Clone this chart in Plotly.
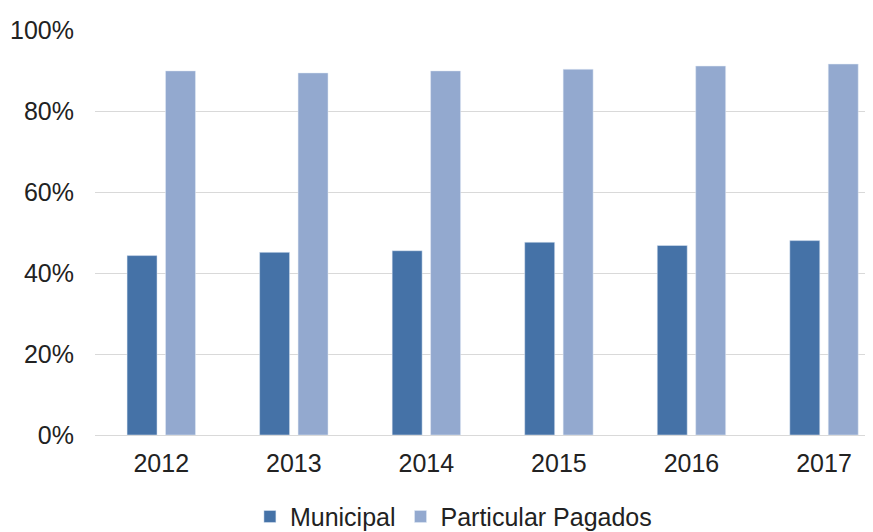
import plotly.graph_objects as go

years = ["2012", "2013", "2014", "2015", "2016", "2017"]
municipal = [0.443, 0.451, 0.455, 0.476, 0.468, 0.480]
particular_pagados = [0.899, 0.894, 0.899, 0.903, 0.911, 0.916]
y_ticks = [0, 0.2, 0.4, 0.6, 0.8, 1.0]
y_tick_labels = ["0%", "20%", "40%", "60%", "80%", "100%"]

fig = go.Figure()

fig.add_trace(go.Bar(
    x=years,
    y=municipal,
    name="Municipal",
    marker=dict(color="#4572A7"),
    hoverinfo="skip"
))

fig.add_trace(go.Bar(
    x=years,
    y=particular_pagados,
    name="Particular Pagados",
    marker=dict(color="#93A9CF"),
    hoverinfo="skip"
))

# page has an 8px body margin, margins below compensate for it
fig.update_layout(
    width=873,
    height=532,
    margin=dict(t=22, b=103, l=87, r=0),
    paper_bgcolor="white",
    plot_bgcolor="white",
    barmode="group",
    bargap=0.42,
    bargroupgap=0.22,
    font=dict(family="Liberation Sans, Arial, sans-serif", size=25, color="#222222"),
    legend=dict(
        orientation="h",
        x=0.456,
        xanchor="center",
        y=-0.145,
        yanchor="top",
        font=dict(size=25),
        itemwidth=30
    )
)

# the plot runs past the right edge of the picture, so the last category is cut a bit
fig.update_xaxes(
    type="category",
    range=[-0.5, 5.43],
    showline=True,
    linecolor="#d9d9d9",
    linewidth=1,
    ticks="",
    ticklabelstandoff=6,
    tickfont=dict(size=25)
)

fig.update_yaxes(
    range=[0, 1.0],
    tickvals=y_ticks,
    ticktext=y_tick_labels,
    showgrid=True,
    gridcolor="#d9d9d9",
    gridwidth=1,
    zeroline=False,
    ticks="",
    ticklabelstandoff=20,
    tickfont=dict(size=25)
)

fig.write_html("out.html")
